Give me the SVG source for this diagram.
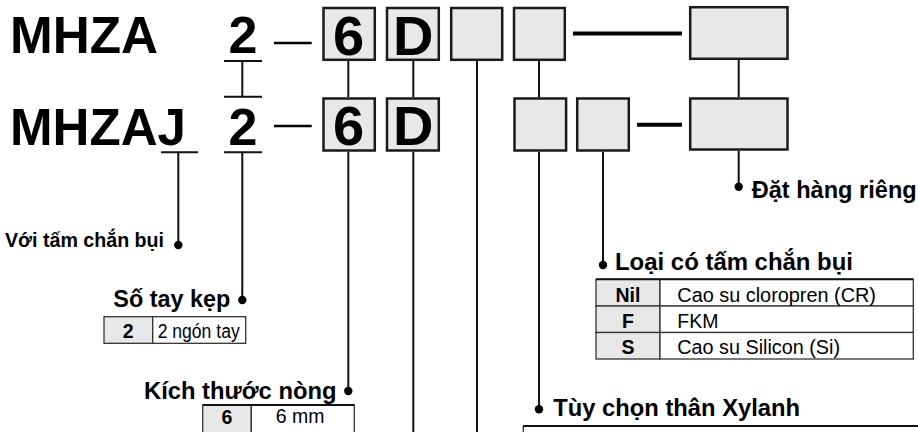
<svg xmlns="http://www.w3.org/2000/svg" width="918" height="432" viewBox="0 0 918 432">
<style>
text{font-family:"Liberation Sans",Arial,Helvetica,sans-serif;fill:#000}
.code{font-weight:bold;font-size:52px}
.box{fill:#e8e8e8;stroke:#1a1a1a;stroke-width:2.5}
.bt{font-weight:bold;font-size:56px;text-anchor:middle}
.ln{stroke:#111;stroke-width:2;fill:none}
.dash{stroke:#000;stroke-width:4}
.thin{stroke:#000;stroke-width:2.7}
.lbl{font-weight:bold;font-size:23px}
.cell{fill:#fff;stroke:#333;stroke-width:1.3}
.shade{fill:#e8e8e8;stroke:#333;stroke-width:1.3}
.tk{font-weight:bold;font-size:19.5px;text-anchor:middle}
.tv{font-size:19.5px}
.dot{fill:#000}
</style>

<g id="code-row1">
  <text class="code" x="10" y="53" textLength="148" lengthAdjust="spacingAndGlyphs">MHZA</text>
  <text class="code" x="228.5" y="53">2</text>
  <line class="thin" x1="274" y1="43" x2="311.7" y2="43"/>
  <line class="dash" x1="573" y1="33.5" x2="682" y2="33.5"/>
</g>
<g id="code-row2">
  <text class="code" x="10" y="145" textLength="176" lengthAdjust="spacingAndGlyphs">MHZAJ</text>
  <text class="code" x="228.5" y="145">2</text>
  <line class="thin" x1="274" y1="126" x2="311.7" y2="126"/>
  <line class="dash" x1="637" y1="124.7" x2="682" y2="124.7"/>
</g>

<g id="box-r1-6"><rect class="box" x="323.5" y="8" width="51.3" height="51.8"/><text class="bt" x="348.5" y="54.5">6</text></g>
<g id="box-r1-D"><rect class="box" x="387" y="8" width="51.8" height="51.8"/><text class="bt" x="413.3" y="54.5">D</text></g>
<g id="box-r1-3"><rect class="box" x="451.2" y="8" width="51" height="51.8"/></g>
<g id="box-r1-4"><rect class="box" x="514" y="8" width="50.8" height="51.8"/></g>
<g id="box-r1-big"><rect class="box" x="690.2" y="7.2" width="97.3" height="51.6"/></g>

<g id="box-r2-6"><rect class="box" x="323.5" y="98.5" width="51.3" height="52"/><text class="bt" x="348.5" y="145.2">6</text></g>
<g id="box-r2-D"><rect class="box" x="387" y="98.5" width="51.8" height="52"/><text class="bt" x="413.3" y="145.2">D</text></g>
<g id="box-r2-a"><rect class="box" x="514.5" y="98.5" width="51.6" height="52"/></g>
<g id="box-r2-b"><rect class="box" x="577.2" y="98.5" width="51.6" height="52"/></g>
<g id="box-r2-big"><rect class="box" x="690.2" y="98.5" width="97.3" height="51"/></g>

<g id="connectors">
  <path class="ln" d="M224 61H262M224 96.7H262M242.3 61V96.7M224 152.3H262M161 152.3H198"/>
  <path class="ln" d="M178.3 152.3V245M242.3 152.3V300M348.3 61V97.3M413.3 61V97.3M348.3 151.7V391M413.3 151.7V432M477 61V432M539 61V97.3M539 151.7V409.3M603 151.7V265M738.7 60V97.3M738.7 150.7V186.7"/>
  <circle class="dot" cx="178.3" cy="245" r="4.2"/>
  <circle class="dot" cx="242.3" cy="300" r="4.2"/>
  <circle class="dot" cx="348.3" cy="391" r="4.2"/>
  <circle class="dot" cx="539" cy="409.3" r="4.2"/>
  <circle class="dot" cx="603" cy="265" r="4.2"/>
  <circle class="dot" cx="738.7" cy="186.7" r="4.2"/>
</g>

<g id="lbl-bui"><text class="lbl" x="5" y="246.7" style="font-size:21px" textLength="159" lengthAdjust="spacingAndGlyphs">Với tấm chắn bụi</text></g>

<g id="lbl-tay">
  <text class="lbl" x="113.3" y="307.3" textLength="117" lengthAdjust="spacingAndGlyphs">Số tay kẹp</text>
  <rect class="shade" x="104" y="316.7" width="48.7" height="26.6"/>
  <rect class="cell" x="152.7" y="316.7" width="93" height="26.6"/>
  <text class="tk" x="128.3" y="337.7">2</text>
  <text class="tv" x="157.7" y="337.7" textLength="82" lengthAdjust="spacingAndGlyphs">2 ngón tay</text>
</g>

<g id="lbl-nong">
  <text class="lbl" x="144" y="399" textLength="192.5" lengthAdjust="spacingAndGlyphs">Kích thước nòng</text>
  <rect class="shade" x="202.7" y="405" width="48.6" height="30"/>
  <rect class="cell" x="251.3" y="405" width="103" height="30"/>
  <line x1="202.7" y1="405" x2="354.3" y2="405" stroke="#111" stroke-width="2"/>
  <text class="tk" x="227" y="424">6</text>
  <text class="tv" x="300" y="423" text-anchor="middle">6 mm</text>
</g>

<g id="lbl-loai">
  <text class="lbl" x="615" y="270" textLength="238" lengthAdjust="spacingAndGlyphs">Loại có tấm chắn bụi</text>
  <rect class="shade" x="596" y="279.3" width="64" height="26.7"/>
  <rect class="cell" x="660" y="279.3" width="253.3" height="26.7"/>
  <rect class="shade" x="596" y="306" width="64" height="26.5"/>
  <rect class="cell" x="660" y="306" width="253.3" height="26.5"/>
  <rect class="shade" x="596" y="332.5" width="64" height="26.5"/>
  <rect class="cell" x="660" y="332.5" width="253.3" height="26.5"/>
  <line x1="596" y1="279.3" x2="913.3" y2="279.3" stroke="#111" stroke-width="2"/>
  <text class="tk" x="628" y="302">Nil</text>
  <text class="tk" x="628" y="327.5">F</text>
  <text class="tk" x="628" y="353.5">S</text>
  <text class="tv" x="677.3" y="302" textLength="198.7" lengthAdjust="spacingAndGlyphs">Cao su cloropren (CR)</text>
  <text class="tv" x="677.3" y="327.5">FKM</text>
  <text class="tv" x="677.3" y="353.5" textLength="162.7" lengthAdjust="spacingAndGlyphs">Cao su Silicon (Si)</text>
</g>

<g id="lbl-rieng"><text class="lbl" x="751.7" y="198.3" textLength="165" lengthAdjust="spacingAndGlyphs">Đặt hàng riêng</text></g>

<g id="lbl-xylanh">
  <text class="lbl" x="553.3" y="416" textLength="246.7" lengthAdjust="spacingAndGlyphs">Tùy chọn thân Xylanh</text>
  <rect class="cell" x="523.3" y="426" width="420" height="30"/>
  <line x1="523.3" y1="426" x2="918" y2="426" stroke="#111" stroke-width="2"/>
</g>
</svg>
